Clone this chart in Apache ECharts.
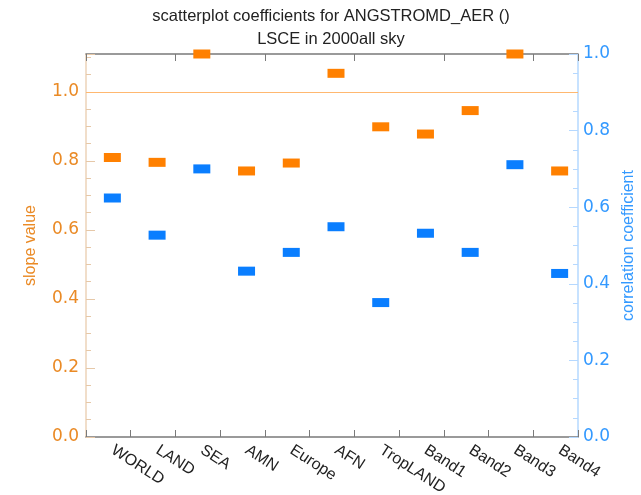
<!DOCTYPE html>
<html>
<head>
<meta charset="utf-8">
<script src="https://cdn.jsdelivr.net/npm/echarts@6/dist/echarts.min.js"></script>
<style>
  html, body { margin: 0; padding: 0; background: #ffffff; }
  #chart { width: 641px; height: 495px; }
</style>
</head>
<body>
<div id="chart"></div>
<script>
// Regions along the x axis
const regions = ['WORLD', 'LAND', 'SEA', 'AMN', 'Europe', 'AFN', 'TropLAND', 'Band1', 'Band2', 'Band3', 'Band4'];
// Regression slope per region (left axis)
const slopeValues = [0.81, 0.796, 1.11, 0.771, 0.794, 1.054, 0.899, 0.878, 0.946, 1.11, 0.771];
// Correlation coefficient per region (right axis)
const corrValues = [0.624, 0.527, 0.700, 0.433, 0.482, 0.549, 0.351, 0.532, 0.482, 0.711, 0.427];
// Axis ranges and labelled ticks
const slopeMax = 1.11;
const corrMax = 1.0;
const majorStep = 0.2;
const minorStep = 0.05;

const ORANGE = '#FF8000';
const ORANGE_TEXT = '#EA8A25';
const BLUE = '#0A7EFF';
const BLUE_TEXT = '#3399FF';
const FONT = 'Liberation Sans';
const NUM_FONT = 'DejaVu Sans';

const majorLabel = v => {
  const k = v / majorStep;
  return Math.abs(k - Math.round(k)) < 1e-6 ? v.toFixed(1) : '';
};

const chart = echarts.init(document.getElementById('chart'), null, { renderer: 'canvas' });

const markerShape = { symbol: 'rect', symbolSize: [17, 9], symbolOffset: [4, 0] };

const frameLine = { show: true, onZero: false, lineStyle: { color: '#7a7a7a', width: 1.5 } };
const frameTick = { show: true, inside: true, length: 7, lineStyle: { color: '#7a7a7a', width: 1 } };

chart.setOption({
  animation: false,
  backgroundColor: '#ffffff',
  title: {
    text: 'scatterplot coefficients for ANGSTROMD_AER ()\nLSCE in 2000all sky',
    left: 326,
    top: 0,
    textAlign: 'center',
    textStyle: { fontFamily: FONT, fontSize: 16.5, fontWeight: 'normal', color: '#222', lineHeight: 23 }
  },
  grid: { left: 86, right: 63, top: 54, bottom: 58, containLabel: false, outerBoundsMode: 'none' },
  xAxis: [
    {
      type: 'category',
      data: regions,
      position: 'bottom',
      axisLine: frameLine,
      axisTick: frameTick,
      axisLabel: {
        rotate: -33, margin: 9, fontFamily: FONT, fontSize: 16, color: '#222',
        padding: [0, 0, 0, 5], interval: 0
      },
      splitLine: { show: false }
    },
    {
      type: 'category',
      data: regions,
      position: 'top',
      axisLine: frameLine,
      axisTick: frameTick,
      axisLabel: { show: false },
      splitLine: { show: false }
    }
  ],
  yAxis: [
    {
      type: 'value', position: 'left', min: 0, max: slopeMax, interval: minorStep,
      name: 'slope value', nameLocation: 'middle', nameRotate: 90, nameGap: 47,
      nameTextStyle: { fontFamily: FONT, fontSize: 16, color: ORANGE_TEXT },
      axisLine: { show: true, onZero: false, lineStyle: { color: '#EDD3B8', width: 1.5 } },
      axisTick: { show: true, inside: true, length: 5, lineStyle: { color: '#E6C8A8' } },
      axisLabel: { formatter: majorLabel, fontFamily: NUM_FONT, fontSize: 17, color: ORANGE_TEXT, margin: 7 },
      splitLine: { show: false }
    },
    {
      type: 'value', position: 'right', min: 0, max: corrMax, interval: minorStep,
      name: 'correlation coefficient', nameLocation: 'middle', nameRotate: 90, nameGap: 41,
      nameTextStyle: { fontFamily: FONT, fontSize: 16, color: BLUE_TEXT },
      axisLine: { show: true, onZero: false, lineStyle: { color: '#B5D8FF', width: 1.5 } },
      axisTick: { show: true, inside: true, length: 5, lineStyle: { color: '#B5D8FF' } },
      axisLabel: { formatter: majorLabel, fontFamily: NUM_FONT, fontSize: 17, color: BLUE_TEXT, margin: 5 },
      splitLine: { show: false }
    },
    {
      // longer ticks at the labelled slope values
      type: 'value', position: 'left', min: 0, max: slopeMax, interval: majorStep,
      axisLine: { show: false },
      axisTick: { show: true, inside: true, length: 9, lineStyle: { color: '#E6C8A8' } },
      axisLabel: { show: false },
      splitLine: { show: false }
    },
    {
      // longer ticks at the labelled correlation values
      type: 'value', position: 'right', min: 0, max: corrMax, interval: majorStep,
      axisLine: { show: false },
      axisTick: { show: true, inside: true, length: 9, lineStyle: { color: '#B5D8FF' } },
      axisLabel: { show: false },
      splitLine: { show: false }
    }
  ],
  series: [
    {
      name: 'slope',
      type: 'scatter',
      xAxisIndex: 0,
      yAxisIndex: 0,
      data: slopeValues,
      ...markerShape,
      itemStyle: { color: ORANGE, opacity: 1 },
      z: 3,
      markLine: {
        silent: true,
        symbol: 'none',
        label: { show: false },
        lineStyle: { color: '#FFB870', width: 1, type: 'solid' },
        data: [{ yAxis: 1.0 }]
      }
    },
    {
      name: 'correlation',
      type: 'scatter',
      xAxisIndex: 0,
      yAxisIndex: 1,
      data: corrValues,
      ...markerShape,
      itemStyle: { color: BLUE, opacity: 1 },
      z: 3
    }
  ]
});
</script>
</body>
</html>
